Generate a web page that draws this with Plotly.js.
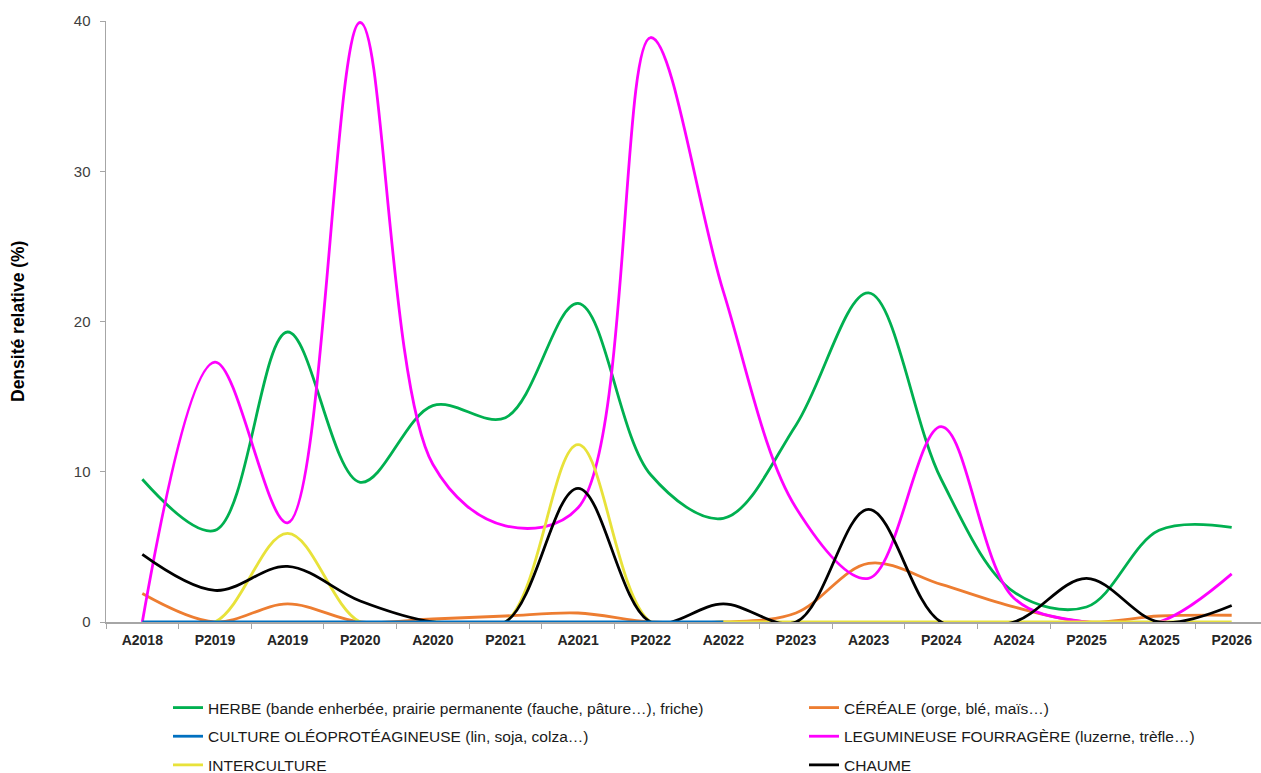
<!DOCTYPE html>
<html>
<head>
<meta charset="utf-8">
<script src="https://cdn.plot.ly/plotly-3.0.1.min.js"></script>
<style>
html, body { margin: 0; padding: 0; overflow: hidden; background: #fff; }
#chart { width: 1268px; height: 773px; }
</style>
</head>
<body>
<div id="chart"></div>
<script>
const categories = ["A2018","P2019","A2019","P2020","A2020","P2021","A2021","P2022","A2022","P2023","A2023","P2024","A2024","P2025","A2025","P2026"];

const herbe       = [9.5, 6.1, 19.3, 9.3, 14.4, 13.6, 21.2, 9.8, 6.9, 13.1, 21.9, 9.5, 2.0, 1.0, 6.1, 6.3];
const cereale     = [1.9, 0, 1.2, 0, 0.2, 0.4, 0.6, 0, 0, 0.6, 3.9, 2.5, 1.0, 0, 0.4, 0.45];
const oleoprot    = [0, 0, 0, 0, 0, 0, 0, 0, 0, null, null, null, null, null, null, null];
const legumineuse = [0, 17.3, 6.6, 39.9, 10.5, 6.4, 7.6, 38.9, 22.0, 7.6, 2.9, 13.0, 1.6, 0, 0, 3.2];
const interculture= [0, 0, 5.9, 0, 0, 0, 11.8, 0, 0, 0, 0, 0, 0, 0, 0, 0];
const chaume      = [4.5, 2.1, 3.7, 1.4, 0, 0, 8.9, 0, 1.2, 0, 7.5, 0, 0, 2.9, 0, 1.1];
const yTickVals   = [0, 10, 20, 30, 40];
const yTitle      = "Densité relative (%)";

const names = {
  herbe: "HERBE (bande enherbée, prairie permanente (fauche, pâture…), friche)",
  cereale: "CÉRÉALE (orge, blé, maïs…)",
  oleo: "CULTURE OLÉOPROTÉAGINEUSE (lin, soja, colza…)",
  legum: "LEGUMINEUSE FOURRAGÈRE (luzerne, trèfle…)",
  inter: "INTERCULTURE",
  chaume: "CHAUME"
};

function tr(y, name, color, legendId, rank) {
  return {
    x: categories, y: y, name: name, type: "scatter", mode: "lines",
    line: {color: color, width: 2.8, shape: "spline", smoothing: 1},
    legend: legendId, legendgroup: name, legendrank: rank,
    hoverinfo: "skip", connectgaps: false
  };
}

const data = [
  tr(herbe, names.herbe, "#00B050", "legend", 1),
  tr(cereale, names.cereale, "#ED7D31", "legend2", 1),
  tr(legumineuse, names.legum, "#FF00FF", "legend2", 2),
  tr(interculture, names.inter, "#E8E23A", "legend", 3),
  tr(chaume, names.chaume, "#000000", "legend2", 3),
  tr(oleoprot, names.oleo, "#0070C0", "legend", 2)
];

const legendFont = {family: "Liberation Sans, Arial, sans-serif", size: 15.5, color: "#1a1a1a"};
const legendBase = {
  orientation: "v",
  xref: "container", yref: "container",
  y: 1 - 691 / 773,
  xanchor: "left", yanchor: "top",
  font: legendFont,
  bgcolor: "rgba(0,0,0,0)",
  traceorder: "grouped",
  tracegroupgap: 5.5,
  itemwidth: 30
};

const W = 1268, H = 773, ML = 106, MT = 21, MB = 151;
const plotW = W - ML, plotH = H - MT - MB;

const layout = {
  width: W, height: H,
  margin: {l: ML, r: 0, t: MT, b: MB, autoexpand: false},
  paper_bgcolor: "#ffffff", plot_bgcolor: "#ffffff",
  font: {family: "Liberation Sans, Arial, sans-serif", color: "#000"},
  showlegend: true,
  xaxis: {
    type: "category",
    showgrid: false, zeroline: false,
    showline: true, linecolor: "#A6A6A6", linewidth: 1.5,
    ticks: "outside", ticklen: 5, tickcolor: "#A6A6A6", tickson: "boundaries",
    tickfont: {family: "Liberation Sans, Arial, sans-serif", size: 14, color: "#262626", weight: "bold"},
    ticklabelstandoff: 5,
    range: [-0.5, 15.5], fixedrange: true
  },
  yaxis: {
    range: [0, 40],
    tickvals: yTickVals,
    showgrid: false, zeroline: false,
    showline: true, linecolor: "#A6A6A6", linewidth: 1.5,
    ticks: "outside", ticklen: 5, tickcolor: "#A6A6A6",
    tickfont: {family: "Liberation Sans, Arial, sans-serif", size: 15, color: "#404040"},
    ticklabelstandoff: 6,
    fixedrange: true
  },
  annotations: [{
    text: yTitle, textangle: -90,
    xref: "paper", yref: "paper",
    x: (18 - ML) / plotW, y: (MT + plotH - 322) / plotH,
    xanchor: "center", yanchor: "middle",
    showarrow: false,
    font: {family: "Liberation Sans, Arial, sans-serif", size: 17.5, color: "#000", weight: "bold"}
  }],
  legend: Object.assign({}, legendBase, {x: 168 / W}),
  legend2: Object.assign({}, legendBase, {x: 804 / W})
};

Plotly.newPlot("chart", data, layout, {displayModeBar: false, staticPlot: true});
</script>
</body>
</html>
